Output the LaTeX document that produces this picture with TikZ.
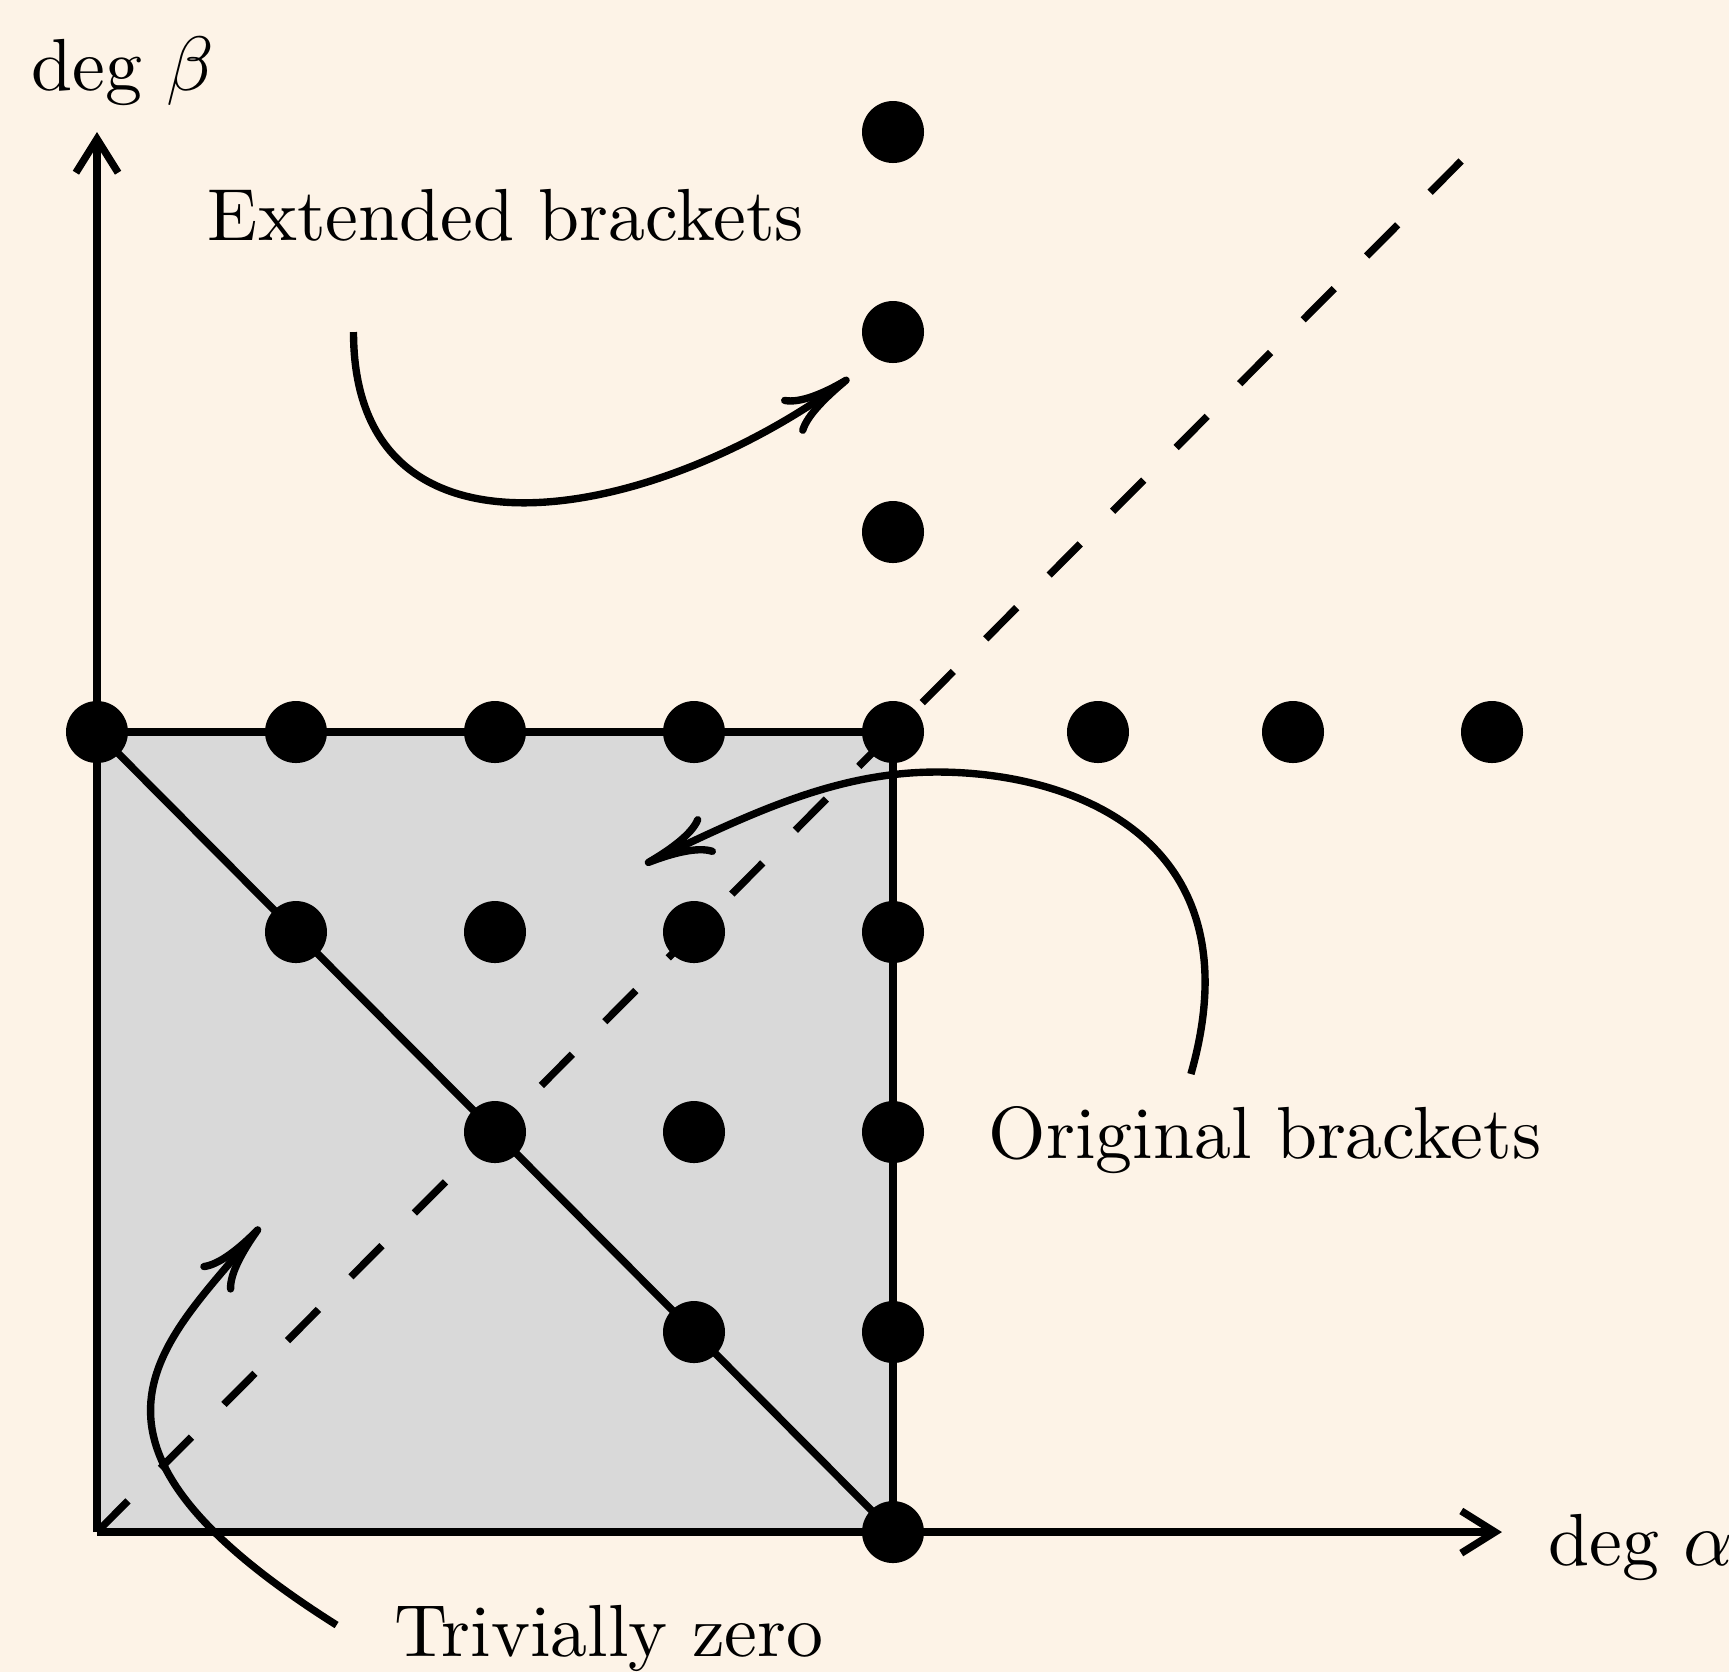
\documentclass[tikz,border=0pt]{standalone}
\usetikzlibrary{arrows.meta,bending}
\definecolor{bgcream}{RGB}{253,243,231}
\definecolor{sqgray}{RGB}{217,217,217}
\begin{document}
\begin{tikzpicture}[x=0.995cm,y=1cm,
  axis/.style={line width=1.05pt, -{Straight Barb[length=4.8pt,width=6pt]}},
  edge/.style={line width=1.05pt},
  dashline/.style={line width=1.05pt, dash pattern=on 0.22cm off 0.23cm},
  dot/.style={circle, fill=black, inner sep=0pt, minimum size=0.31cm},
  lbl/.style={inner sep=0pt, font=\fontsize{10.5pt}{12.6pt}\selectfont},
  curv/.style={line width=1.05pt, -{Computer Modern Rightarrow[length=10pt,width=6pt,bend]}},
]
\fill[bgcream] (-0.4874,-0.70) rectangle (8.201,7.66);
\useasboundingbox (-0.4874,-0.70) rectangle (8.201,7.66);

\coordinate (O) at (0,0);
\coordinate (X) at (7.06,0);
\coordinate (Y) at (0,7);
\coordinate (D) at (6.86,6.86);
\coordinate (c04) at (0,4);
\coordinate (c44) at (4,4);
\coordinate (c40) at (4,0);

\fill[sqgray] (O) rectangle (c44);
\draw[dashline] (O) -- (D);
\draw[edge] (c04) -- (c44) -- (c40);
\draw[edge] (c04) -- (c40);
\draw[axis] (O) -- (X);
\draw[axis] (O) -- (Y);

\foreach \i in {0,...,4} {
  \foreach \j in {0,...,4} {
    \pgfmathtruncatemacro\s{\i+\j}
    \ifnum\s>3 \node[dot] (p\i\j) at (\i,\j) {}; \fi
  }
}
\node[dot] (r5) at (5.03,4) {};
\node[dot] (r6) at (6.01,4) {};
\node[dot] (r7) at (7.01,4) {};
\foreach \k in {5,6,7} {
  \node[dot] (u\k) at (4,\k) {};
}

\node[lbl, anchor=base] (lb) at (0.129,7.21) {deg $\beta$};
\node[lbl, anchor=base west] (la) at (7.286,-0.165) {deg $\alpha$};
\node[lbl, anchor=base] (ext) at (2.055,6.46) {Extended brackets};
\node[lbl, anchor=base] (orig) at (5.869,1.87) {Original brackets};
\node[lbl, anchor=base] (triv) at (2.573,-0.62) {Trivially zero};

\coordinate (e0) at (1.289,6.0);
\coordinate (e1) at (3.779,5.77);
\draw[curv] (e0) .. controls (1.289,4.75) and (2.814,5.05) .. (e1);

\coordinate (o0) at (5.497,2.29);
\coordinate (om) at (4.221,3.80);
\coordinate (o1) at (2.754,3.34);
\draw[curv] (o0) .. controls (5.83,3.45) and (4.925,3.80) .. (om) .. controls (3.719,3.80) and (3.296,3.60) .. (o1);

\coordinate (t0) at (1.204,-0.465);
\coordinate (t1) at (0.819,1.525);
\draw[curv] (t0) .. controls (-0.30,0.48) and (0.352,0.95) .. (t1);
\end{tikzpicture}
\end{document}
